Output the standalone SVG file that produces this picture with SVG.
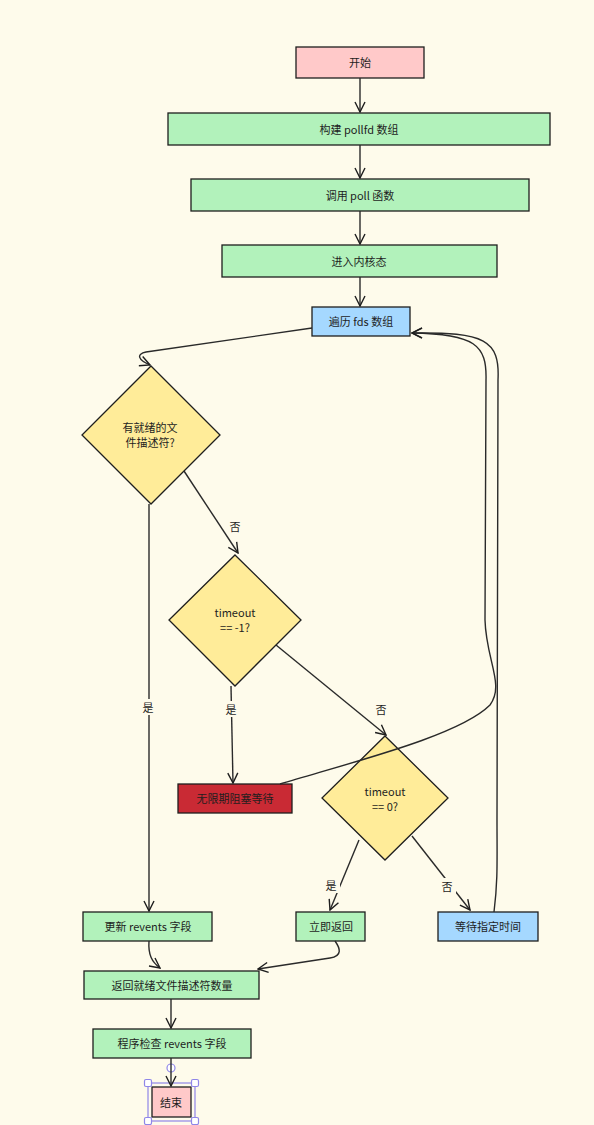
<svg xmlns="http://www.w3.org/2000/svg" width="594" height="1125" viewBox="0 0 594 1125">
<style>
.bg{fill:#fefbeb}
.box{stroke:#1e1e1e;stroke-width:1.3}
.pink{fill:#ffc9c9}
.green{fill:#b2f2bb}
.blue{fill:#a5d8ff}
.red{fill:#c92a34}
.yel{fill:#ffec99}
.t{font-family:"Noto Sans CJK SC","Noto Sans",sans-serif;font-size:11px;fill:#1e1e1e;text-anchor:middle;dominant-baseline:central}
.e{fill:none;stroke:#2a2a2a;stroke-width:1.4}
.lb{fill:#fefbeb}
.sel{fill:none;stroke:#8f86e8;stroke-width:1.2}
.h{fill:#ffffff;stroke:#8f86e8;stroke-width:1.2}
</style>
<defs>
<marker id="ah" viewBox="0 0 12 12" refX="11" refY="6" markerWidth="12" markerHeight="12" markerUnits="userSpaceOnUse" orient="auto">
<path d="M1,1 L11,6 L1,11" fill="none" stroke="#1e1e1e" stroke-width="1.4"/>
</marker>
</defs>
<rect class="bg" x="0" y="0" width="594" height="1125"/>

<g id="start"><rect class="box pink" x="296" y="47" width="128" height="31"/><text class="t" x="360" y="62">开始</text></g>
<g id="build"><rect class="box green" x="168" y="113" width="382" height="32"/><text class="t" x="359" y="129">构建 pollfd 数组</text></g>
<g id="call"><rect class="box green" x="191" y="179" width="338" height="32"/><text class="t" x="360" y="195">调用 poll 函数</text></g>
<g id="kernel"><rect class="box green" x="222" y="245" width="275" height="32"/><text class="t" x="359" y="261">进入内核态</text></g>
<g id="iterate"><rect class="box blue" x="312" y="307" width="98" height="29"/><text class="t" x="361" y="321">遍历 fds 数组</text></g>
<g id="ready"><polygon class="box yel" points="151,366 220,435 151,504 82,435"/><text class="t" x="150" y="427">有就绪的文</text><text class="t" x="150" y="442">件描述符?</text></g>
<g id="tneg"><polygon class="box yel" points="235,555 301,620 235,686 169,620"/><text class="t" x="235" y="612">timeout</text><text class="t" x="235" y="627">== -1?</text></g>
<g id="tzero"><polygon class="box yel" points="385,736 448,798 385,860 322,798"/><text class="t" x="385" y="791">timeout</text><text class="t" x="385" y="806">== 0?</text></g>
<g id="block"><rect class="box red" x="178" y="784" width="114" height="29"/><text class="t" x="235" y="798">无限期阻塞等待</text></g>
<g id="update"><rect class="box green" x="83" y="912" width="129" height="29"/><text class="t" x="148" y="926">更新 revents 字段</text></g>
<g id="immediate"><rect class="box green" x="296" y="912" width="69" height="29"/><text class="t" x="331" y="926">立即返回</text></g>
<g id="wait"><rect class="box blue" x="438" y="912" width="100" height="29"/><text class="t" x="488" y="926">等待指定时间</text></g>
<g id="retcount"><rect class="box green" x="84" y="971" width="175" height="28"/><text class="t" x="172" y="985">返回就绪文件描述符数量</text></g>
<g id="check"><rect class="box green" x="93" y="1029" width="158" height="29"/><text class="t" x="172" y="1043">程序检查 revents 字段</text></g>
<g id="end"><rect class="box pink" x="152" y="1087" width="39" height="30"/><text class="t" x="171" y="1102">结束</text>
<rect class="sel" x="148" y="1083" width="47" height="38"/>
<rect class="h" x="144.5" y="1079.5" width="7" height="7" rx="1.5"/>
<rect class="h" x="191.5" y="1079.5" width="7" height="7" rx="1.5"/>
<rect class="h" x="144.5" y="1117.5" width="7" height="7" rx="1.5"/>
<rect class="h" x="191.5" y="1117.5" width="7" height="7" rx="1.5"/>
<circle class="h" cx="171" cy="1068" r="4"/>
</g>

<g id="connectors">
<path class="e" d="M360,78 L360,112" marker-end="url(#ah)"/>
<path class="e" d="M360,145 L360,178" marker-end="url(#ah)"/>
<path class="e" d="M360,211 L360,244" marker-end="url(#ah)"/>
<path class="e" d="M360,277 L360,306" marker-end="url(#ah)"/>
<path class="e" d="M312,328 L146,352 C136,354 138,360 150,365" marker-end="url(#ah)"/>
<path class="e" d="M149,504 L149,911" marker-end="url(#ah)"/>
<path class="e" d="M184,471 L238,553" marker-end="url(#ah)"/>
<path class="e" d="M231,686 L233,783" marker-end="url(#ah)"/>
<path class="e" d="M276,645 L386,735" marker-end="url(#ah)"/>
<path class="e" d="M280,784 C360,760 460,735 490,705 C505,685 486,660 485,620 L486,380 C487,345 475,334 412,333" marker-end="url(#ah)"/>
<path class="e" d="M494,912 C498,880 497,860 497,820 L498,380 C500,340 485,332 412,333" marker-end="url(#ah)"/>
<path class="e" d="M359,840 L330,910" marker-end="url(#ah)"/>
<path class="e" d="M412,836 L470,910" marker-end="url(#ah)"/>
<path class="e" d="M149,941 C148,955 152,962 160,968" marker-end="url(#ah)"/>
<path class="e" d="M335,941 C340,948 343,956 330,958 L258,969" marker-end="url(#ah)"/>
<path class="e" d="M171,999 L171,1028" marker-end="url(#ah)"/>
<path class="e" d="M171,1058 L171,1086" marker-end="url(#ah)"/>
<rect class="lb" x="140" y="699" width="17" height="16"/>
<text class="t" x="148" y="707">是</text>
<rect class="lb" x="227" y="518" width="17" height="16"/>
<text class="t" x="235" y="526">否</text>
<rect class="lb" x="223" y="701" width="17" height="16"/>
<text class="t" x="231" y="709">是</text>
<rect class="lb" x="373" y="701" width="17" height="16"/>
<text class="t" x="381" y="709">否</text>
<rect class="lb" x="323" y="877" width="17" height="16"/>
<text class="t" x="331" y="885">是</text>
<rect class="lb" x="439" y="878" width="17" height="16"/>
<text class="t" x="447" y="886">否</text>
</g>
</svg>
